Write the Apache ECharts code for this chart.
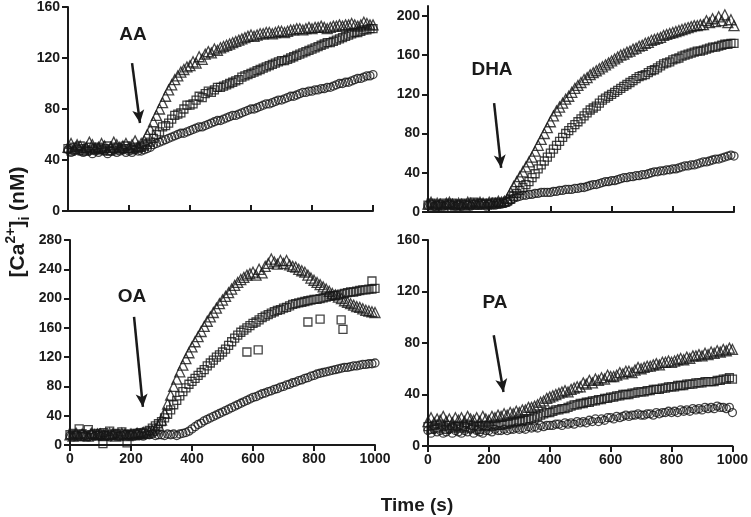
<!DOCTYPE html>
<html>
<head>
<meta charset="utf-8">
<script src="https://cdn.jsdelivr.net/npm/echarts@6/dist/echarts.min.js"></script>
<style>html,body{margin:0;padding:0;background:#fff}#c{width:751px;height:517px}</style>
</head>
<body>
<div id="c"></div>
<script>
// Time points (s), every 10 s
const times = [
  0,10,20,30,40,50,60,70,80,90,
  100,110,120,130,140,150,160,170,180,190,
  200,210,220,230,240,250,260,270,280,290,
  300,310,320,330,340,350,360,370,380,390,
  400,410,420,430,440,450,460,470,480,490,
  500,510,520,530,540,550,560,570,580,590,
  600,610,620,630,640,650,660,670,680,690,
  700,710,720,730,740,750,760,770,780,790,
  800,810,820,830,840,850,860,870,880,890,
  900,910,920,930,940,950,960,970,980,990,
  1000];

// AA panel
const AA_tri = [
  50,53,49,52,51,48,50,54,52,49,
  50,53,51,48,50,54,52,50,51,53,
  50,52,55,51,53,55,60,64,70,75,
  80,85,90,95,99,103,106,109,111,113,
  114,117,116,121,119,123,125,124,127,126,
  128,129,130,131,132,133,134,135,136,137,
  138,137,138,139,139,140,140,139,140,141,
  141,140,141,142,142,143,143,142,143,144,
  143,144,144,145,144,143,144,145,145,146,
  145,146,146,147,146,145,146,148,147,146,
  146];
const AA_sq = [
  49,47,50,48,51,49,47,50,48,49,
  50,48,49,51,47,49,50,48,49,51,
  49,48,50,49,50,51,52,54,57,60,
  62,66,67,69,72,75,76,77,80,83,
  83,84,87,90,89,92,94,93,95,97,
  97,98,99,100,101,102,103,105,106,107,
  108,109,110,111,112,113,114,115,116,117,
  118,118,119,120,121,122,123,124,125,126,
  127,128,129,130,131,132,132,133,134,135,
  136,137,138,139,140,140,141,142,142,143,
  143];
const AA_ci = [
  48,46,47,49,47,46,48,47,45,47,
  46,48,47,45,47,48,46,47,48,46,
  47,46,48,47,47,48,49,50,52,53,
  54,55,56,57,58,59,60,61,61,62,
  63,64,65,66,66,67,68,69,70,71,
  71,72,73,74,75,75,76,77,78,79,
  80,80,81,82,83,84,84,85,86,87,
  87,88,89,90,90,91,92,93,93,94,
  94,95,95,96,96,97,97,98,99,100,
  100,101,101,102,103,104,104,105,106,106,
  107];

// DHA panel
const DHA_tri = [
  8,10,7,9,8,6,9,10,8,7,
  9,8,7,10,9,8,8,10,9,8,
  10,9,9,11,10,11,14,20,26,31,
  36,41,46,51,56,62,68,74,80,86,
  92,98,103,107,111,115,118,122,126,129,
  132,135,137,140,142,144,146,148,150,152,
  154,156,158,160,161,163,164,166,167,169,
  170,172,173,175,176,177,178,180,181,182,
  183,184,185,186,187,188,189,190,190,191,
  191,195,193,197,194,199,195,201,193,196,
  190];
const DHA_sq = [
  7,9,8,6,7,9,8,7,9,8,
  7,8,9,7,8,10,9,8,9,8,
  8,9,10,9,9,10,11,13,16,19,
  22,25,28,31,35,39,44,48,52,56,
  60,64,68,72,76,80,83,86,89,92,
  95,98,101,104,106,108,111,114,116,118,
  120,122,124,126,128,130,132,134,136,138,
  139,140,142,144,145,147,149,151,152,153,
  155,156,157,159,160,161,162,163,164,164,
  165,166,167,168,168,169,170,171,171,172,
  172];
const DHA_ci = [
  7,8,6,7,8,6,7,8,7,6,
  7,6,8,7,6,8,7,7,8,6,
  8,7,7,8,8,9,10,12,14,15,
  16,17,17,18,18,19,19,20,20,20,
  20,21,21,22,22,23,23,23,24,24,
  25,25,26,27,28,28,29,30,31,31,
  32,32,33,34,35,35,36,36,37,37,
  38,38,39,40,41,41,42,42,43,43,
  44,44,45,46,47,47,48,48,49,50,
  51,51,52,53,54,54,55,56,57,58,
  57];

// OA panel
const OA_tri = [
  14,12,16,13,15,13,12,16,14,15,
  15,13,14,16,15,12,14,16,15,13,
  15,14,16,15,17,16,18,20,22,27,
  34,44,56,68,80,90,100,109,118,126,
  134,141,148,155,162,169,175,181,187,193,
  198,203,208,213,218,222,226,229,232,234,
  236,232,240,235,244,248,254,250,247,252,
  248,252,246,244,243,240,238,236,232,228,
  225,222,219,216,213,210,207,205,202,200,
  197,195,193,191,189,188,186,184,183,182,
  181];
const OA_sq = [
  14,16,13,22,15,12,21,14,16,13,
  15,17,13,19,14,16,12,18,15,14,
  14,16,15,17,16,18,20,23,26,29,
  32,37,42,48,55,61,67,73,78,83,
  87,91,95,99,103,108,112,116,120,123,
  127,131,136,141,146,150,154,157,160,163,
  166,168,171,174,176,178,180,182,184,185,
  187,188,190,192,193,194,195,196,197,198,
  199,199,200,201,202,203,204,204,205,206,
  207,208,209,209,210,211,212,212,213,213,
  214];
// scattered single square readings off the main trend
const OA_sq_extraT = [108,187,580,617,780,820,889,895,990];
const OA_sq_extraV = [2,3,127,130,168,172,171,158,224];
const OA_ci = [
  13,11,14,12,15,13,11,14,12,13,
  12,14,13,11,13,15,12,13,14,12,
  13,12,14,13,12,14,14,15,13,14,
  14,13,15,14,15,13,15,16,17,19,
  22,25,28,30,33,35,37,39,41,43,
  45,47,49,51,53,55,57,59,61,63,
  65,66,68,70,71,73,74,76,77,79,
  80,82,83,85,86,88,89,91,92,94,
  95,97,98,99,100,101,102,103,104,105,
  106,106,107,108,108,109,110,110,111,111,
  112];

// PA panel
const PA_tri = [
  19,22,18,21,20,23,19,21,18,22,
  20,22,19,23,21,20,22,19,23,21,
  20,23,22,24,23,25,24,26,25,27,
  26,28,28,30,30,31,32,34,35,37,
  38,39,40,41,42,43,42,44,45,46,
  46,49,48,51,49,52,51,53,52,55,
  54,54,55,57,56,58,58,57,59,61,
  60,61,62,62,63,64,63,65,65,66,
  65,66,67,68,67,69,68,70,70,71,
  70,72,71,73,72,74,73,75,74,76,
  75];
const PA_sq = [
  15,13,16,14,17,15,13,16,14,15,
  16,14,15,17,14,16,15,13,16,15,
  16,15,17,16,16,17,17,18,18,19,
  19,20,20,21,21,22,23,24,25,26,
  26,27,28,28,29,29,30,31,32,32,
  33,33,34,34,35,35,36,36,37,37,
  38,38,39,39,40,40,40,41,41,42,
  42,42,43,43,44,44,44,45,45,46,
  46,46,47,47,47,48,48,48,49,49,
  49,50,50,50,50,51,51,52,52,53,
  52];
const PA_ci = [
  12,10,13,11,12,10,11,13,10,12,
  11,10,12,11,13,10,12,11,10,12,
  12,11,13,12,12,13,12,13,13,14,
  13,14,13,15,14,15,14,16,15,16,
  16,16,17,17,16,18,17,18,17,19,
  18,19,18,20,19,21,19,21,20,22,
  22,21,23,22,23,24,23,24,24,25,
  24,24,25,25,24,26,25,26,26,27,
  26,27,26,28,27,28,27,29,28,29,
  28,30,29,30,29,31,30,30,29,30,
  26];

const panelNames = ['AA','DHA','OA','PA'];
const yMax = [160,210,280,160];
const yTicks = [[0,40,80,120,160],[0,40,80,120,160,200],[0,40,80,120,160,200,240,280],[0,40,80,120,160]];
// arrows in data coordinates [t, value] start -> end
const arrows = [[[210,116],[236,69]], [[216,111],[239,45]], [[210,175],[239,52]], [[216,86],[248,42]]];

const ink = '#1a1a1a';
const font = '"Liberation Sans", Arial, sans-serif';

const grids = [
  {left:68, top:6, width:305, height:205},
  {left:428, top:6, width:306, height:206},
  {left:70, top:240, width:305, height:205},
  {left:428, top:240, width:307, height:206}
];

function pairs(t, v){ return t.map((x,i)=>[x, v[i]]); }

const xAxes = grids.map((g,i)=>({
  gridIndex:i, type:'value', min:0, max:1000, interval:200,
  axisLine:{show:true, onZero:false, lineStyle:{color:ink, width:2}},
  axisTick:{show:true, inside: i<2, length:6, lineStyle:{color:ink, width:2}},
  axisLabel:{show: i>=2, color:ink, fontSize:14, fontWeight:'bold', fontFamily:font, margin:7, formatter:v=>String(v)},
  splitLine:{show:false}
}));
const yAxes = grids.map((g,i)=>({
  gridIndex:i, type:'value', min:0, max:yMax[i],
  axisLine:{show:true, onZero:false, lineStyle:{color:ink, width:2}},
  axisTick:{show:true, length:6, lineStyle:{color:ink, width:2}, customValues:yTicks[i]},
  axisLabel:{color:ink, fontSize:14, fontWeight:'bold', fontFamily:font, margin:8, customValues:yTicks[i]},
  splitLine:{show:false}
}));

const sets = [
  [AA_tri, AA_sq, AA_ci],
  [DHA_tri, DHA_sq, DHA_ci],
  [OA_tri, OA_sq, OA_ci],
  [PA_tri, PA_sq, PA_ci]
];
const symbols = [['triangle',10],['rect',8],['circle',8]];
const series = [];
sets.forEach((s,gi)=>{
  [2,1,0].forEach(k=>{
    let data = pairs(times, s[k]);
    if (gi===2 && k===1) data = data.concat(pairs(OA_sq_extraT, OA_sq_extraV));
    const ser = {
      type:'scatter', xAxisIndex:gi, yAxisIndex:gi, data,
      symbol:symbols[k][0], symbolSize:symbols[k][1], silent:true,
      itemStyle:{color:'rgba(255,255,255,0)', borderColor:'#161616', borderWidth:1.3}
    };
    if (k===0) {
      ser.markLine = {
        silent:true, symbol:['none','arrow'], symbolSize:[9,13], animation:false,
        label:{show:false},
        lineStyle:{color:ink, width:2.5, type:'solid'},
        data:[[{coord:arrows[gi][0]},{coord:arrows[gi][1]}]]
      };
    }
    series.push(ser);
  });
});

const labelPos = [[133,35],[492,70],[132,297],[495,303]];
const graphic = panelNames.map((n,i)=>({
  type:'text', x:labelPos[i][0], y:labelPos[i][1],
  style:{text:n, fill:ink, font:'bold 19px ' + font, align:'center', verticalAlign:'middle'}
}));
graphic.push({
  type:'text', x:417, y:506,
  style:{text:'Time (s)', fill:ink, font:'bold 19px ' + font, align:'center', verticalAlign:'middle'}
});
graphic.push({
  type:'text', x:18, y:222, rotation:Math.PI/2,
  style:{
    text:'{a|[Ca}{s|2+}{a|]}{b|i}{a| (nM)}',
    align:'center', verticalAlign:'middle',
    rich:{
      a:{fontSize:21, fontWeight:'bold', fontFamily:font, fill:ink, lineHeight:28, verticalAlign:'middle'},
      s:{fontSize:14, fontWeight:'bold', fontFamily:font, fill:ink, lineHeight:14, verticalAlign:'top'},
      b:{fontSize:14, fontWeight:'bold', fontFamily:font, fill:ink, lineHeight:14, verticalAlign:'bottom'}
    }
  }
});

const chart = echarts.init(document.getElementById('c'), null, {renderer:'canvas'});
chart.setOption({
  animation:false,
  backgroundColor:'#fff',
  grid:grids,
  xAxis:xAxes,
  yAxis:yAxes,
  series,
  graphic
});
</script>
</body>
</html>
